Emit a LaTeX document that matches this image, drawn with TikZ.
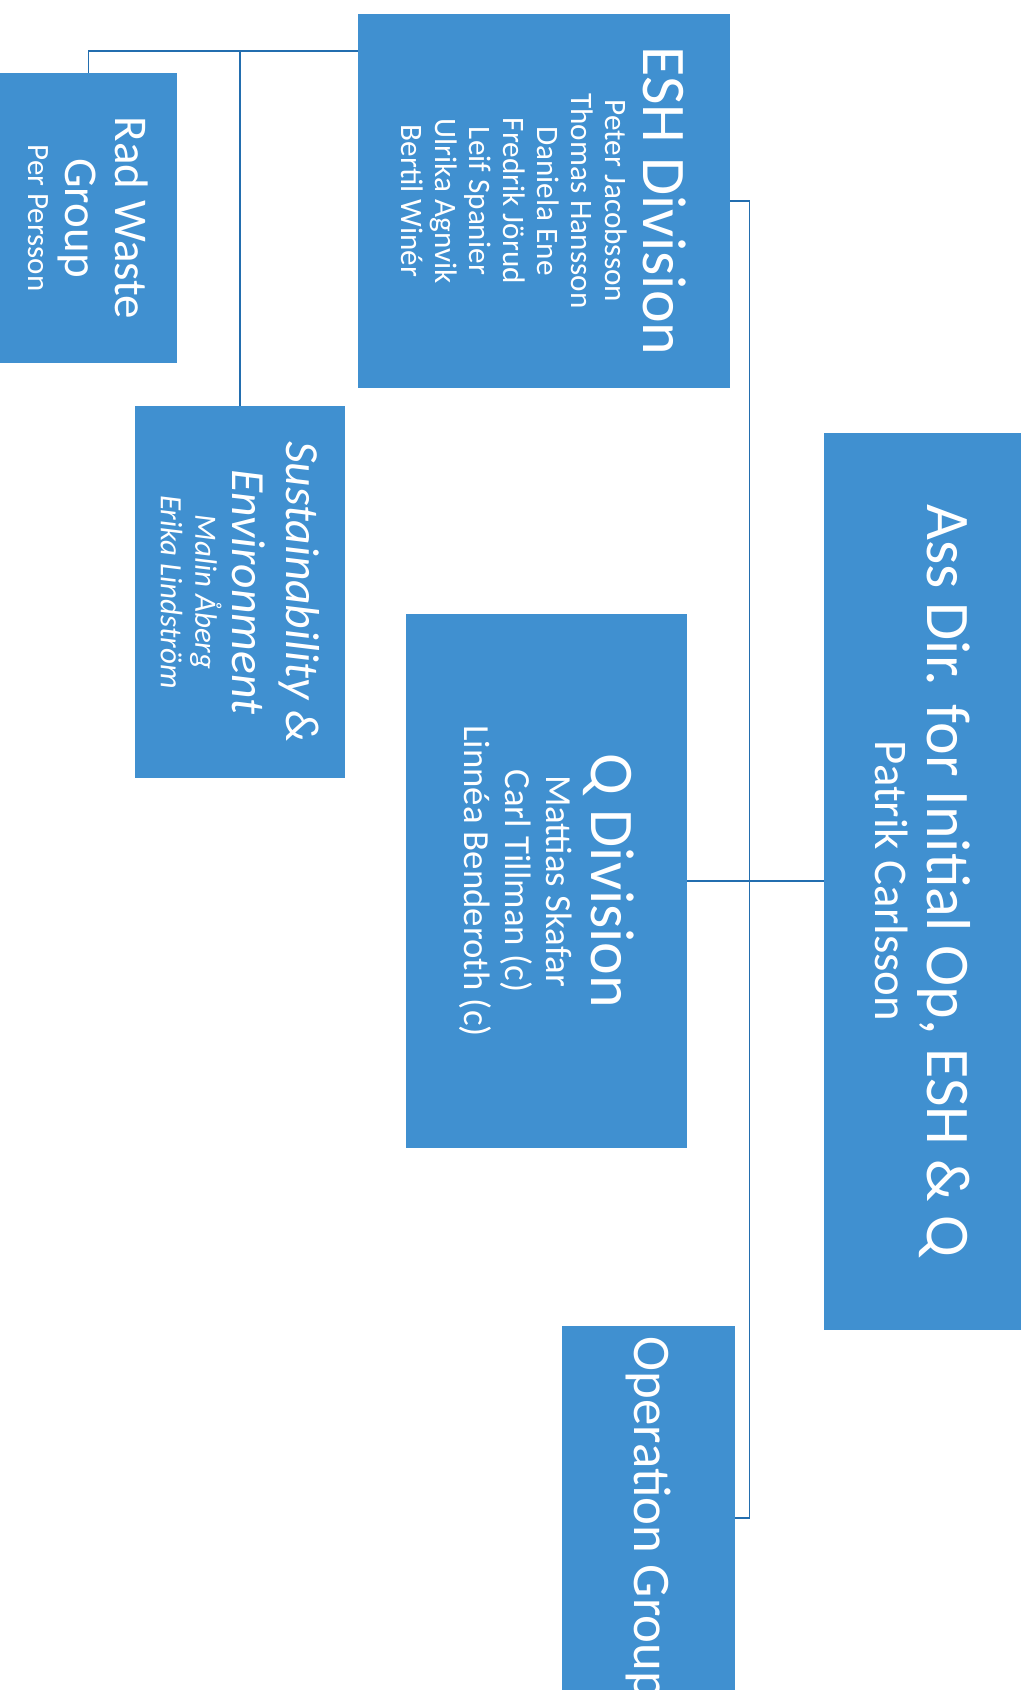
\documentclass[tikz,border=0pt]{standalone}
\usepackage{fontspec}
\setmainfont{Carlito}

\definecolor{boxblue}{RGB}{64,144,208}
\definecolor{lineblue}{RGB}{35,110,175}
\newcommand\tightlines{\lineskiplimit=-100pt\relax}

\begin{document}
\begin{tikzpicture}[x=0.5pt, y=-0.5pt,
    unit/.style={fill=boxblue, inner sep=0pt},
    caption/.style={rotate=-90, text=white, align=center, inner sep=0pt,
      execute at begin node=\tightlines},
    link/.style={draw=lineblue, line width=0.75pt}]

      \useasboundingbox (0, 0) rectangle (1029, 1690);
      \clip (0, 0) rectangle (1029, 1690);

      \node [unit, minimum width=186pt, minimum height=187pt] (esh) at (544, 201) {};
      \node [caption, font=\fontsize{15.6}{17}\selectfont] (esh-text) at (esh)
        {{\fontsize{31}{31}\selectfont ESH Division}\\[2pt]
         Peter Jacobsson\\ Thomas Hansson\\ Daniela Ene\\ Fredrik Jörud\\
         Leif Spanier\\ Ulrika Agnvik\\ Bertil Winér};

      \node [unit, minimum width=88.5pt, minimum height=145pt] (rad) at (88.5, 218) {};
      \node [caption, font=\fontsize{15.5}{18.5}\selectfont] (rad-text) at (rad)
        {{\fontsize{23.5}{23.5}\selectfont Rad Waste}\\[6.5pt]
         {\fontsize{23.5}{23.5}\selectfont Group}\\ Per Persson};

      \node [unit, minimum width=105pt, minimum height=186pt] (sust) at (240, 592) {};
      \node [caption, font=\fontsize{15.5}{17.25}\selectfont\itshape] (sust-text) at (sust)
        {{\fontsize{23.8}{23.8}\selectfont Sustainability \&}\\[9.75pt]
         {\fontsize{23.8}{23.8}\selectfont Environment}\\[1.25pt]
         Malin Åberg\\ Erika Lindström};

      \node [unit, minimum width=140.5pt, minimum height=267pt] (q) at (546.5, 881) {};
      \node [caption, font=\fontsize{18.4}{20.5}\selectfont] (q-text) at (q)
        {{\fontsize{31}{31}\selectfont Q Division}\\[2pt]
         Mattias Skafar\\ Carl Tillman (c)\\ Linnéa Benderoth (c)};

      \node [unit, minimum width=98.5pt, minimum height=448.5pt] (ad) at (922.5, 881) {};
      \node [caption, font=\fontsize{23.4}{26}\selectfont] (ad-text) at (ad)
        {{\fontsize{31}{31}\selectfont Ass Dir. for Initial Op, ESH \& Q}\\
         Patrik Carlsson};

      \node [unit, minimum width=86.5pt, minimum height=192pt] (op) at (648.5, 1518) {};
      \node [caption, font=\fontsize{26.4}{30}\selectfont] (op-text) at (op)
        {Operation Group};

      \coordinate (esh-tap) at ([yshift=75pt]esh.west);
      \coordinate (hub) at ([xshift=31pt]q.east);

      \draw [link] (esh-tap) -| (rad.north);
      \draw [link] (esh-tap) -| (sust.north);

      \draw [link] (q.east) -- (ad.west);
      \draw [link] (esh.east) -| (hub) |- (op.east);
    \end{tikzpicture}
\end{document}
